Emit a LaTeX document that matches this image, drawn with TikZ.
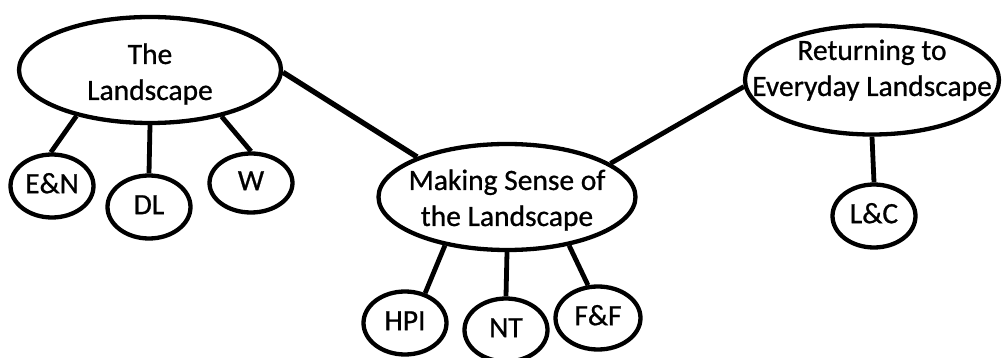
\documentclass[tikz,border=0pt]{standalone}
\usepackage{fontspec}
\setmainfont[FakeBold=0.8]{Carlito}
\usetikzlibrary{shapes.geometric}
% label set in a zero-width box so that the ellipse size comes from minimum width/height
\newcommand\ctext[1]{\makebox[0pt]{\begin{tabular}{@{}c@{}}#1\end{tabular}}}
% two-line label, moved vertically by #1 inside its ellipse
\newcommand\ctextat[2]{\raisebox{#1}[0pt][0pt]{\ctext{#2}}}
\begin{document}
\begin{tikzpicture}[x=1pt,y=-1pt,
  bubble/.style={ellipse, draw=black, line width=4.3pt, inner sep=0pt,
                 font=\fontsize{29.5}{36}\selectfont},
  leaf/.style={bubble, minimum width=83pt, minimum height=63pt},
  link/.style={line width=4.8pt}]
\useasboundingbox (0,0) rectangle (1002,358);

% main topics
\node[bubble, minimum width=262pt, minimum height=106pt] (land) at (150,70) {\ctextat{-11pt}{The\\Landscape}};
\node[bubble, minimum width=257pt, minimum height=106pt] (ms) at (507,197) {\ctextat{-10pt}{Making Sense of\\the Landscape}};
\node[bubble, minimum width=254pt, minimum height=109pt] (ret) at (872,80) {\ctextat{3pt}{Returning to\\Everyday Landscape}};

% sub-topics
\node[leaf] (en) at (52,186) {\ctext{E\&N}};
\node[leaf] (dl) at (149,207) {\ctext{DL}};
\node[leaf, minimum height=59pt] (w) at (251,183) {\ctext{W}};
\node[leaf] (hpi) at (405,323) {\ctext{HPI}};
\node[leaf] (nt) at (506,330) {\ctext{NT}};
\node[leaf, minimum width=85pt] (ff) at (598,318) {\ctext{F\&F}};
\node[leaf] (lc) at (874,216) {\ctext{L\&C}};

% connections
\draw[link] (land.212) -- (en.92);
\draw[link] (land.270) -- (dl.90);
\draw[link] (land.327) -- (w.90);
\draw[link, line width=5.3pt] (land.-1) -- (ms.156);
\draw[link] (ms.18) -- (ret.183);
\draw[link] (ms.218) -- (hpi.56);
\draw[link] (ms.270) -- (nt.90);
\draw[link] (ms.322) -- (ff.107);
\draw[link] (ret.270) -- (lc.90);
\end{tikzpicture}
\end{document}
